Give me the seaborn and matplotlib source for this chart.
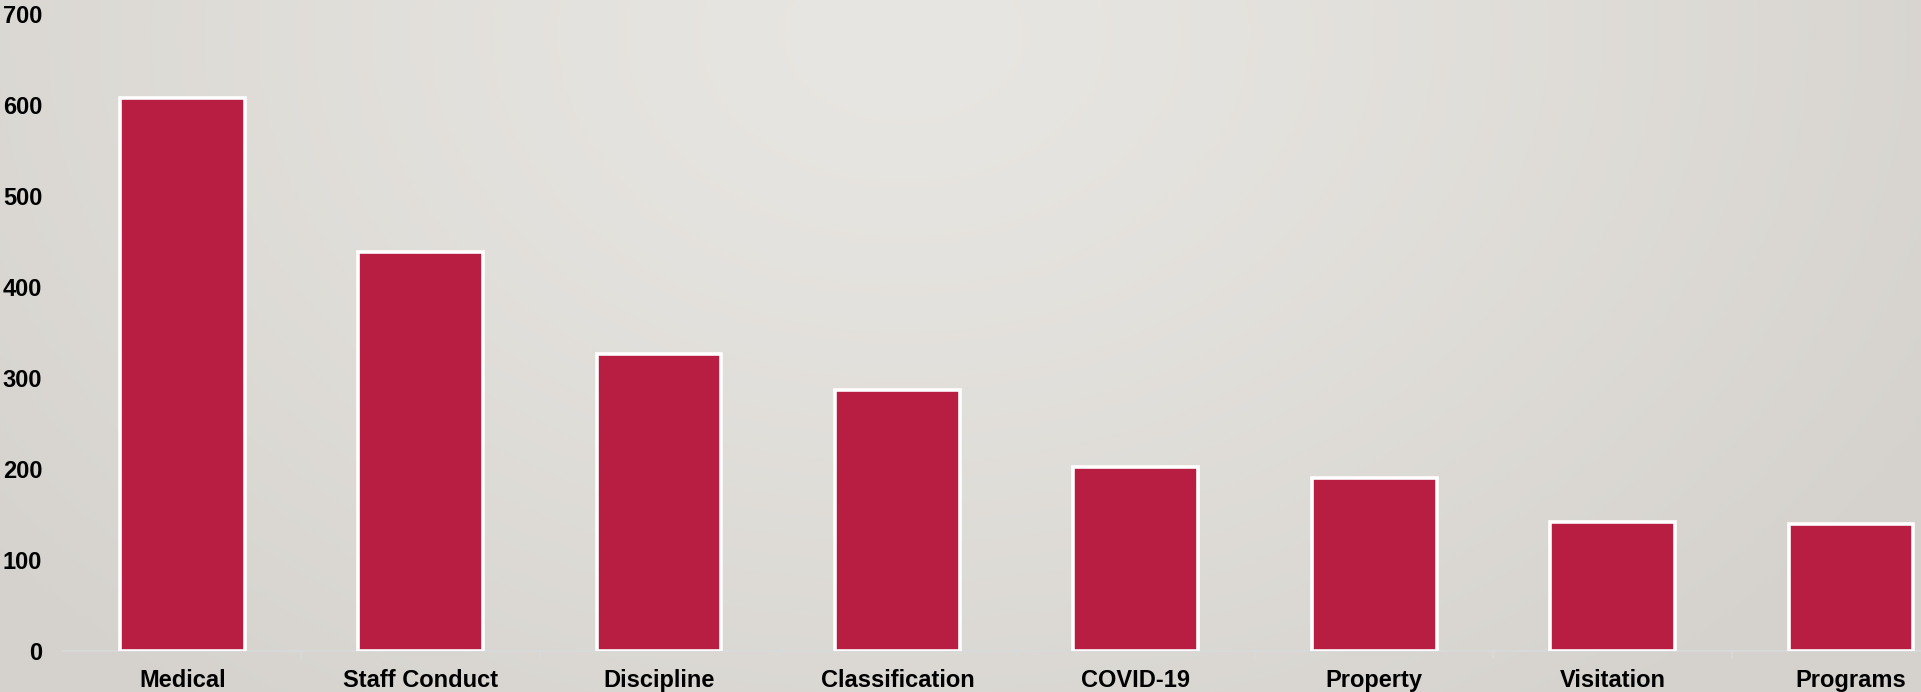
import numpy as np
import pandas as pd
import matplotlib
matplotlib.use("Agg")
import matplotlib.pyplot as plt
import seaborn as sns

# Grievance counts by category
categories = ["Medical", "Staff Conduct", "Discipline", "Classification",
              "COVID-19", "Property", "Visitation", "Programs"]
counts = [607, 438, 326, 287, 202, 190, 142, 139]
y_ticks = [0, 100, 200, 300, 400, 500, 600, 700]

df = pd.DataFrame({"category": categories, "count": counts})

sns.set_theme(style="white")
plt.rcParams["font.family"] = ["Liberation Sans", "DejaVu Sans"]

W, H = 1921, 692
fig = plt.figure(figsize=(W / 100, H / 100), dpi=100)

# Soft radial backdrop, lightest near the top centre
bg = fig.add_axes([0, 0, 1, 1], zorder=-10)
yy, xx = np.mgrid[0:H, 0:W]
r = np.sqrt(((xx - 0.47 * W) / (0.62 * W)) ** 2 + ((yy - 0.05 * H) / (1.25 * H)) ** 2)
r = np.clip(r, 0, 1)
light = np.array([232, 230, 226]) / 255
dark = np.array([213, 210, 205]) / 255
img = light[None, None, :] * (1 - r[..., None] ** 1.3) + dark[None, None, :] * (r[..., None] ** 1.3)
bg.imshow(img, aspect="auto", extent=[0, 1, 0, 1], origin="upper")
bg.axis("off")

ax = fig.add_axes([63 / W, 41.3 / H, 8 * 238.4 / W, (678.2 - 41.3) / H])
ax.patch.set_alpha(0)

sns.barplot(data=df, x="category", y="count", color="#B71E42", saturation=1,
            width=0.523, edgecolor="white", linewidth=2.6, zorder=3, ax=ax)

ax.set_xlim(-0.5, len(categories) - 0.5)
ax.set_ylim(0, 700)
ax.set_yticks(y_ticks)
ax.set_yticklabels([str(v) for v in y_ticks], fontsize=17, fontweight="bold", color="black")
ax.tick_params(axis="y", length=0, pad=15)
ax.set_xticks(range(len(categories)))
ax.set_xticklabels(categories, fontsize=17, fontweight="bold", color="black")
ax.tick_params(axis="x", which="major", length=0, pad=13)
ax.set_xticks(np.arange(0.5, len(categories) - 0.5, 1.0), minor=True)
ax.tick_params(axis="x", which="minor", length=5, width=1.2, color="#D8DADC", bottom=True)
ax.set_xlabel("")
ax.set_ylabel("")

for side in ["left", "right", "top"]:
    ax.spines[side].set_visible(False)
ax.spines["bottom"].set_color("#D8DADC")
ax.spines["bottom"].set_linewidth(1.2)
ax.spines["bottom"].set_zorder(1)

fig.savefig("out.png", dpi=100)
